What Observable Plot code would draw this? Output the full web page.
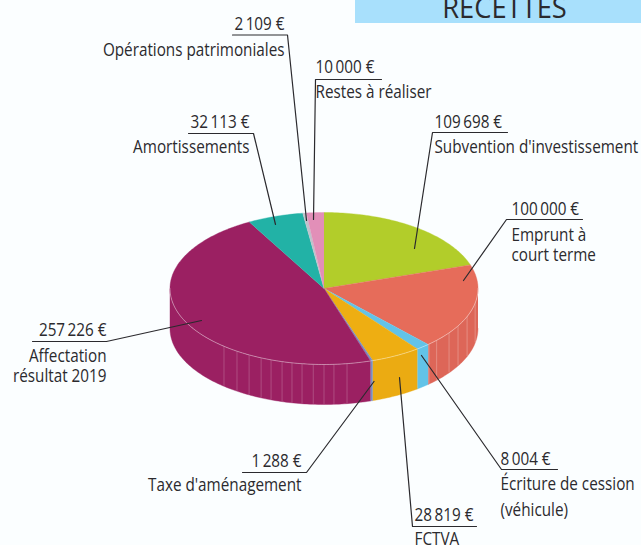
<!DOCTYPE html>
<html lang="fr">
<head>
<meta charset="utf-8">
<script src="https://cdn.jsdelivr.net/npm/d3@7"></script>
<script src="https://cdn.jsdelivr.net/npm/@observablehq/plot@0.6"></script>
<style>
  html, body { margin: 0; padding: 0; background: #FBFEFF; overflow: hidden; }
  svg { display: block; }
</style>
</head>
<body>
<div id="chart"></div>
<script>
// Values, clockwise from 12 o'clock
const names = ["Subvention d'investissement", "Emprunt à court terme", "Écriture de cession (véhicule)", "FCTVA", "Taxe d'aménagement", "Affectation résultat 2019", "Amortissements", "Opérations patrimoniales", "Restes à réaliser"];
const values = [109698, 100000, 8004, 28819, 1288, 257226, 32113, 2109, 10000];
const topColors = ["#B2CD2A", "#E66C5A", "#62C3E8", "#EEAE12", "#7A8CC0", "#9B2062", "#22B2A6", "#BFC3CC", "#E28FB8"];
const wallColors = ["#A8C228", "#DD6658", "#62C3E8", "#EBAB12", "#7A8CC0", "#9B2062", "#22B2A6", "#BFC3CC", "#E28FB8"];

// Labels
const amounts = ["109\u2009698 €", "100\u2009000 €", "8\u2009004 €", "28\u2009819 €", "1\u2009288 €", "257\u2009226 €", "32\u2009113 €", "2\u2009109 €", "10\u2009000 €"];
const captions = [["Subvention d'investissement"], ["Emprunt à", "court terme"], ["Écriture de cession", "(véhicule)"], ["FCTVA"], ["Taxe d'aménagement"], ["Affectation", "résultat 2019"], ["Amortissements"], ["Opérations patrimoniales"], ["Restes à réaliser"]];

// Layout of the callouts: text anchor, amount baseline, caption baselines
const anchors = ["start", "start", "start", "start", "end", "end", "end", "end", "start"];
const textX = [434, 511, 500, 414, 301, 106, 249, 284, 315];
const amountY = [127, 214, 464, 520, 466, 335, 127, 29, 72];
const captionY = [[152], [240, 260], [489, 515], [544], [490], [361, 381], [152], [55], [97]];
// Leader polylines: rule start, elbow, tip inside the slice
const leaders = [
  [[507, 132], [432, 132], [414, 248]],
  [[582, 219], [506, 219], [463, 280]],
  [[557, 469], [501, 469], [421, 355]],
  [[476, 526], [412, 526], [399, 377]],
  [[242, 472], [306, 472], [373.5, 381]],
  [[32, 341], [106, 341], [201, 320]],
  [[188, 133], [253, 133], [275, 224]],
  [[232, 34.5], [287, 34.5], [306, 220]],
  [[381, 79], [315, 79], [313, 219]]
];

// Pie geometry
const cx = 323.5, cy = 288, rx = 154, ry = 76, depth = 40;
const purpleWallLines = [171.4, 176.3, 180, 184, 188.2, 192, 195.8, 200.1, 204.1, 209.1, 214.4, 220.5];
const salmonWallLines = [137, 133, 125.7, 119.5, 111.7, 101];

const ex = a => cx + rx * Math.sin(a * Math.PI / 180);
const ey = a => cy - ry * Math.cos(a * Math.PI / 180);
const total = d3.sum(values);
const ends = d3.cumsum(values).map(v => v / total * 360);
const starts = ends.map((e, i) => i ? ends[i - 1] : 0);

function arc(a0, a1) {
  const n = Math.max(2, Math.ceil(Math.abs(a1 - a0)));
  return d3.range(n + 1).map(i => a0 + (a1 - a0) * i / n);
}

const topPts = [];
const wallPts = [];
names.forEach((name, i) => {
  topPts.push({name, color: topColors[i], x: cx, y: cy});
  arc(starts[i], ends[i]).forEach(a => topPts.push({name, color: topColors[i], x: ex(a), y: ey(a)}));
  const a0 = Math.max(starts[i], 90), a1 = Math.min(ends[i], 270);
  if (a1 > a0) {
    arc(a0, a1).forEach(a => wallPts.push({name, color: wallColors[i], x: ex(a), y: ey(a)}));
    arc(a1, a0).forEach(a => wallPts.push({name, color: wallColors[i], x: ex(a), y: ey(a) + depth}));
  }
});
const rimPts = arc(90, 270).map(a => ({x: ex(a), y: ey(a)}));

const leaderPts = leaders.flatMap((pts, i) => pts.map(([x, y]) => ({i, x, y})));
const amountRows = names.map((_, i) => ({t: amounts[i], x: textX[i], y: amountY[i], a: anchors[i]}));
const captionRows = captions.flatMap((ls, i) => ls.map((t, j) => ({t, x: textX[i], y: captionY[i][j], a: anchors[i]})));
const font = "'Open Sans', sans-serif";
const textMark = (rows, a) => Plot.text(rows.filter(d => d.a === a), {
  x: "x", y: "y", text: "t", textAnchor: a, lineAnchor: "bottom",
  fontSize: 18.5, fontFamily: font, fill: "#2B2A2E"
});

const plot = Plot.plot({
  width: 641, height: 545,
  margin: 0,
  x: {domain: [0, 641], range: [0, 641], axis: null},
  y: {domain: [0, 545], range: [0, 545], axis: null},
  color: {type: "identity"},
  style: {background: "#FBFEFF"},
  marks: [
    Plot.rect([{x1: 355, x2: 641, y1: 0, y2: 23}], {x1: "x1", x2: "x2", y1: "y1", y2: "y2", fill: "#A8E0FC"}),
    Plot.text(["RECETTES"], {x: 504, y: 17, text: d => d, lineAnchor: "bottom", fontSize: 30, fontFamily: font, fill: "#2B2A2E"}),
    Plot.line(wallPts, {x: "x", y: "y", z: "name", fill: "color", stroke: "color", strokeWidth: 0.4, curve: "linear"}),
    Plot.ruleX(purpleWallLines, {x: ex, y1: ey, y2: a => ey(a) + depth, stroke: "#fff", strokeOpacity: 0.2, strokeWidth: 1}),
    Plot.ruleX(salmonWallLines, {x: ex, y1: ey, y2: a => ey(a) + depth, stroke: "#fff", strokeOpacity: 0.25, strokeWidth: 1}),
    Plot.line(topPts, {x: "x", y: "y", z: "name", fill: "color", stroke: "color", strokeWidth: 0.4, curve: "linear"}),
    Plot.line(rimPts, {x: "x", y: "y", stroke: "#fff", strokeOpacity: 0.45, strokeWidth: 0.9, curve: "linear"}),
    Plot.line(leaderPts, {x: "x", y: "y", z: "i", stroke: "#2B2A2E", strokeWidth: 1.2, curve: "linear"}),
    textMark(amountRows, "start"), textMark(amountRows, "end"),
    textMark(captionRows, "start"), textMark(captionRows, "end")
  ]
});
document.getElementById("chart").append(plot);

// The reference face is condensed: squeeze the real text horizontally
plot.querySelectorAll("text").forEach(t => {
  const isTitle = t.textContent === "RECETTES";
  const w = t.getComputedTextLength();
  t.setAttribute("textLength", (w * (isTitle ? 0.91 : 0.825)).toFixed(1));
  t.setAttribute("lengthAdjust", "spacingAndGlyphs");
});
</script>
</body>
</html>
